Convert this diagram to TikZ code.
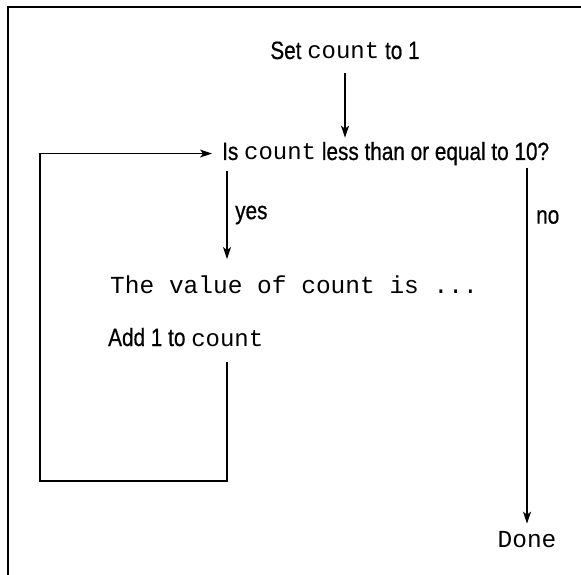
\documentclass[tikz,border=0pt]{standalone}
\usepackage{fontspec}
\setmainfont[FakeStretch=0.83,FakeBold=0.6]{Liberation Sans}
\setmonofont{Liberation Mono}
\usetikzlibrary{positioning,arrows.meta}
\newcommand{\codeword}[1]{{\fontsize{24}{27}\selectfont\ttfamily #1}}

\begin{document}
\begin{tikzpicture}[x=1pt,y=-1pt,>={Stealth[length=12pt,width=8pt,inset=3pt]},
  flowtext/.style={inner sep=0pt,font=\fontsize{25}{28}\selectfont},
  codeline/.style={inner sep=0pt,font=\fontsize{24.5}{27}\selectfont\ttfamily},
  flow/.style={->,line width=1.2pt}]
  \useasboundingbox (0,0) rectangle (581,575);
  \draw[line width=1.5pt] (8,575) |- (581,7);
  % texts
  \node[flowtext,anchor=base] (set) at (345,59) {Set \codeword{count} to 1};
  \node[flowtext,anchor=base west] (test) at (222,160) {Is \codeword{count} less than or equal to 10?};
  \node[codeline,anchor=base west] (print) at (110,293) {The value of count is ...};
  \node[flowtext,anchor=base west] (add) at (108,346) {Add 1 to \codeword{count}};
  \node[codeline,anchor=base] (done) at (527,547) {Done};
  \node[flowtext,anchor=west] (yes) at (235,215) {yes};
  \node[flowtext,anchor=west] (no) at (536,217) {no};
  \coordinate (yescol) at (227,0);
  \coordinate (loopbot) at (40,481);
  % arrows
  \draw[flow,shorten <=14pt,shorten >=4pt] (set.base) -- (set.base |- test.north);
  \draw[flow,shorten <=6pt,shorten >=16pt] (test.south -| yescol) -- (print.north -| yescol);
  \draw[flow,shorten <=3pt,shorten >=7pt] (test.south -| done.north) -- (done.north);
  \draw[flow,shorten <=16pt,shorten >=10pt] (add.south -| yescol) |- (loopbot) |- (test.west);
\end{tikzpicture}
\end{document}
